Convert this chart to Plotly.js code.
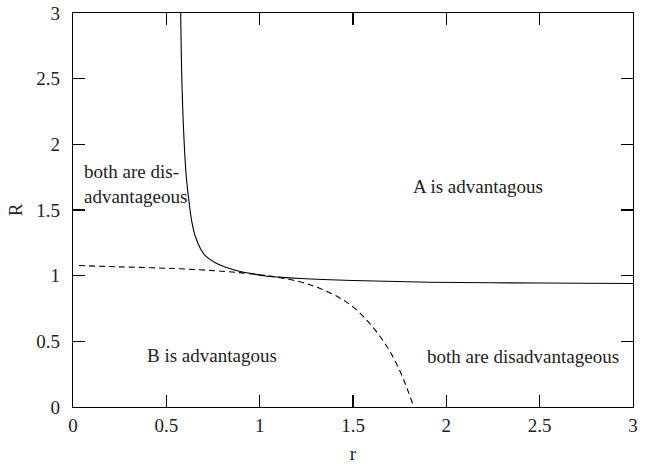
<!DOCTYPE html>
<html>
<head>
<meta charset="utf-8">
<script src="https://cdn.plot.ly/plotly-3.0.1.min.js"></script>
<style>html,body{margin:0;padding:0;background:#fff;}#chart{width:645px;height:464px;}</style>
</head>
<body>
<div id="chart"></div>
<script>
// Solid boundary curve (r, R)
var solidR = [0.577, 0.583, 0.596, 0.607, 0.627, 0.638, 0.655, 0.685, 0.710, 0.760, 0.814, 0.885, 0.957, 1.020, 1.100, 1.220, 1.500, 1.910, 2.500, 3.000];
var solidV = [3.000, 2.500, 2.000, 1.750, 1.500, 1.400, 1.300, 1.200, 1.150, 1.100, 1.066, 1.036, 1.016, 1.000, 0.989, 0.978, 0.963, 0.950, 0.944, 0.940];
// Dashed boundary curve (r, R)
var dashR = [0.032, 0.250, 0.546, 0.814, 1.000, 1.109, 1.225, 1.323, 1.430, 1.500, 1.573, 1.644, 1.700, 1.750, 1.790, 1.826];
var dashV = [1.077, 1.067, 1.054, 1.032, 1.007, 0.985, 0.950, 0.903, 0.830, 0.762, 0.663, 0.539, 0.418, 0.278, 0.140, 0.000];
// Region labels
var labelText = ["both are dis-<br>advantageous", "A is advantagous", "B is advantagous", "both are disadvantageous"];
var labelX = [0.048, 2.17, 0.745, 2.41];
var labelY = [1.70, 1.68, 0.394, 0.386];
var labelAnchor = ["left", "center", "center", "center"];
var tickVals = [0, 0.5, 1, 1.5, 2, 2.5, 3];
var tickText = ["0", "0.5", "1", "1.5", "2", "2.5", "3"];

var font = {family: "Liberation Serif, Times New Roman, serif", size: 19, color: "#222"};

var traces = [
  {x: solidR, y: solidV, mode: "lines", type: "scatter", line: {color: "#000", width: 1.1, shape: "spline", smoothing: 1}, hoverinfo: "skip"},
  {x: dashR, y: dashV, mode: "lines", type: "scatter", line: {color: "#000", width: 1.1, dash: "6px,4px", shape: "spline", smoothing: 1}, hoverinfo: "skip"}
];

var annotations = labelText.map(function (t, i) {
  return {x: labelX[i], y: labelY[i], xref: "x", yref: "y", text: t, showarrow: false,
          xanchor: labelAnchor[i], yanchor: "middle", align: "left", font: font};
});

var axisCommon = {
  range: [0, 3], showgrid: false, zeroline: false, showline: true, mirror: "allticks",
  linecolor: "#000", linewidth: 1.3, ticks: "inside", ticklen: 12, tickwidth: 1.1, tickcolor: "#000",
  tickvals: tickVals, ticktext: tickText, tickfont: font
};

var layout = {
  width: 645, height: 464,
  margin: {l: 73, r: 12, t: 13, b: 57},
  paper_bgcolor: "#fff", plot_bgcolor: "#fff",
  showlegend: false,
  font: font,
  xaxis: Object.assign({}, axisCommon, {ticklabelstandoff: 1, title: {text: "r", font: font, standoff: 15}}),
  yaxis: Object.assign({}, axisCommon, {ticklabelstandoff: 8, title: {text: "R", font: font, standoff: 8}}),
  annotations: annotations
};

Plotly.newPlot("chart", traces, layout, {staticPlot: true, displayModeBar: false});
</script>
</body>
</html>
